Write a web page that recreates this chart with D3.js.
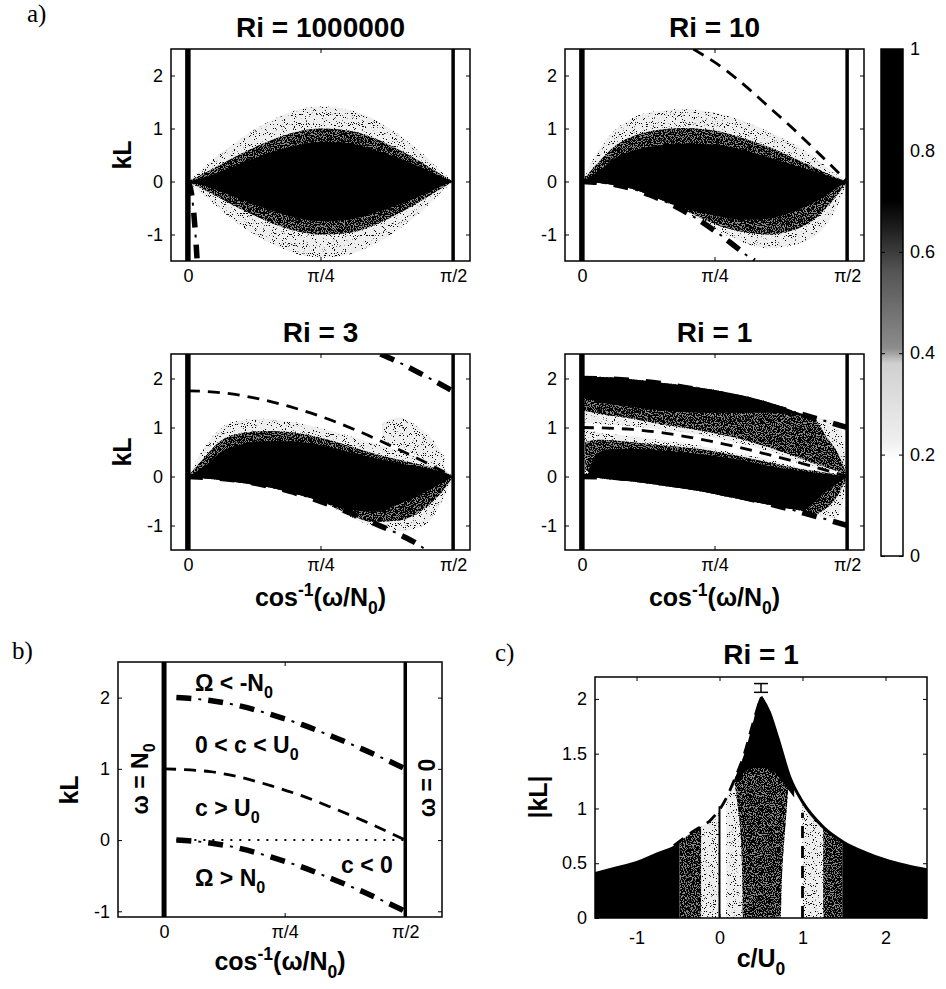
<!DOCTYPE html>
<meta charset="utf-8">
<style>
body { margin: 0; background: #fff; }
svg { font-family: "Liberation Sans", Arial, sans-serif; }
.tick text { font-size: 18px; fill: #000; }
.tick line { stroke: #000; }
.domain { display: none; }
.title { font-size: 28px; font-weight: bold; text-anchor: middle; }
.lab { font-size: 25px; font-weight: bold; text-anchor: middle; }
.note { font-size: 23px; font-weight: bold; }
.letter { font-family: "Liberation Serif", serif; font-size: 25px; }
.frame { fill: none; stroke: #000; stroke-width: 1.5; }
</style>
<svg width="946" height="989"></svg>
<script src="https://d3js.org/d3.v7.min.js"></script>
<script>
// ---- ticks ----
var thetaTicks = [0, Math.PI / 4, Math.PI / 2];
var thetaLabels = ["0", "π/4", "π/2"];
var kLTicks = [-1, 0, 1, 2];
var cTicks = [-1, 0, 1, 2];
var absKLTicks = [0, 0.5, 1, 1.5, 2];
var cbTicks = [0, 0.2, 0.4, 0.6, 0.8, 1];

// colour bar, value -> grey
var cbStops = [0, 0.19, 0.23, 0.38, 0.41, 0.56, 0.64, 0.7, 1];
var cbGreys = ["#fff", "#fff", "#eee", "#d0d0d0", "#8c8c8c", "#555", "#222", "#000", "#000"];

// value of each contour band
var LIGHT = 0.3, MID = 0.55, DARK = 0.9;

// ---- a) growth maps, rows are [theta, kL low, kL high] ----
var ri6Light = [[0,0,0],[0.1,-0.28,0.28],[0.2,-0.55,0.55],[0.3,-0.8,0.78],[0.45,-1.1,1.08],[0.6,-1.32,1.3],[0.785,-1.44,1.42],[0.95,-1.38,1.36],[1.1,-1.2,1.18],[1.25,-0.9,0.88],[1.4,-0.52,0.5],[1.5,-0.2,0.2],[1.5708,0,0]];
var ri6Mid   = [[0,0,0],[0.1,-0.16,0.16],[0.2,-0.33,0.33],[0.3,-0.5,0.5],[0.45,-0.72,0.72],[0.6,-0.9,0.9],[0.785,-1.0,1.0],[0.95,-0.97,0.96],[1.1,-0.83,0.82],[1.25,-0.6,0.6],[1.4,-0.33,0.33],[1.5,-0.13,0.13],[1.5708,0,0]];
var ri6Dark  = [[0,0,0],[0.1,-0.08,0.08],[0.2,-0.2,0.2],[0.3,-0.32,0.32],[0.45,-0.5,0.5],[0.6,-0.65,0.65],[0.785,-0.75,0.75],[0.95,-0.72,0.72],[1.1,-0.6,0.6],[1.25,-0.44,0.44],[1.4,-0.24,0.24],[1.5,-0.09,0.09],[1.5708,0,0]];

var ri10Light = [[0,0,0],[0.1,-0.03,0.6],[0.2,-0.07,0.98],[0.3,-0.14,1.2],[0.45,-0.32,1.33],[0.6,-0.55,1.37],[0.785,-0.9,1.3],[0.95,-1.14,1.15],[1.1,-1.26,0.95],[1.25,-1.2,0.72],[1.4,-0.98,0.4],[1.5,-0.55,0.15],[1.5708,0,0]];
var ri10Mid   = [[0,0,0],[0.1,-0.03,0.37],[0.2,-0.07,0.68],[0.3,-0.14,0.85],[0.45,-0.32,0.97],[0.6,-0.53,1.01],[0.785,-0.8,0.96],[0.95,-0.95,0.82],[1.1,-1.0,0.66],[1.25,-0.92,0.45],[1.4,-0.65,0.23],[1.5,-0.3,0.08],[1.5708,0,0]];
var ri10Dark  = [[0,0,0],[0.1,-0.03,0.2],[0.2,-0.07,0.45],[0.3,-0.14,0.58],[0.45,-0.32,0.68],[0.6,-0.5,0.71],[0.785,-0.64,0.7],[0.95,-0.72,0.6],[1.1,-0.7,0.46],[1.25,-0.57,0.31],[1.4,-0.35,0.17],[1.5,-0.14,0.06],[1.5708,0,0]];

var ri3Light = [[0,0,0],[0.1,-0.04,0.6],[0.2,-0.07,1.0],[0.3,-0.12,1.14],[0.45,-0.2,1.18],[0.6,-0.32,1.13],[0.785,-0.5,0.99],[0.95,-0.8,0.83],[1.1,-1.02,0.68],[1.25,-1.12,0.52],[1.4,-1.0,0.35],[1.5,-0.55,0.2],[1.5708,0,0]];
var ri3Blob  = [[1.15,0.75,1.1],[1.25,0.6,1.2],[1.35,0.44,1.05],[1.45,0.27,0.75],[1.52,0.14,0.4]];
var ri3Mid   = [[0,0,0],[0.1,-0.04,0.4],[0.2,-0.07,0.74],[0.3,-0.12,0.87],[0.45,-0.2,0.93],[0.6,-0.32,0.91],[0.785,-0.5,0.79],[0.95,-0.76,0.63],[1.1,-0.93,0.47],[1.25,-0.9,0.34],[1.4,-0.66,0.22],[1.5,-0.33,0.13],[1.5708,0,0]];
var ri3Dark  = [[0,0,0],[0.1,-0.04,0.21],[0.2,-0.07,0.51],[0.3,-0.12,0.64],[0.45,-0.2,0.72],[0.6,-0.32,0.72],[0.785,-0.5,0.64],[0.95,-0.68,0.5],[1.1,-0.72,0.38],[1.25,-0.56,0.27],[1.4,-0.33,0.18],[1.5,-0.14,0.1],[1.5708,0,0]];

var ri1TopLight = [[0,1.1,1.97],[0.1,1.07,2.04],[0.3,1.03,1.99],[0.5,0.94,1.91],[0.7,0.85,1.82],[0.9,0.7,1.7],[1.1,0.52,1.53],[1.3,0.25,1.29],[1.37,0.18,1.22],[1.45,0.12,1.17],[1.52,0.07,1.12],[1.5708,0,0]];
var ri1TopMid   = [[0,1.35,1.96],[0.1,1.28,2.03],[0.3,1.18,1.98],[0.5,1.05,1.9],[0.7,0.94,1.81],[0.9,0.8,1.69],[1.1,0.6,1.52],[1.3,0.36,1.28],[1.37,0.27,1.21],[1.45,0.18,0.8],[1.52,0.1,0.45],[1.5708,0,0]];
var ri1TopDark  = [[0,1.62,1.96],[0.1,1.52,2.03],[0.3,1.42,1.98],[0.5,1.34,1.9],[0.7,1.3,1.81],[0.9,1.3,1.69],[1.1,1.3,1.52],[1.3,1.24,1.28],[1.36,1.22,1.22]];
var ri1LowLight = [[0,0,0.97],[0.1,-0.03,0.9],[0.3,-0.1,0.82],[0.5,-0.2,0.73],[0.7,-0.3,0.63],[0.9,-0.44,0.49],[1.1,-0.57,0.35],[1.3,-0.72,0.18],[1.4,-0.8,0.12],[1.5,-0.85,0.06],[1.54,-0.6,0.03],[1.5708,0,0]];
var ri1LowMid   = [[0.02,0.15,0.7],[0.1,-0.03,0.75],[0.3,-0.1,0.7],[0.5,-0.2,0.63],[0.7,-0.3,0.56],[0.9,-0.44,0.44],[1.1,-0.57,0.29],[1.3,-0.7,0.15],[1.38,-0.76,0.11],[1.45,-0.64,0.07],[1.52,-0.36,0.03],[1.5708,0,0]];
var ri1LowDark  = [[0.04,0,0.12],[0.08,-0.02,0.42],[0.15,-0.05,0.55],[0.3,-0.1,0.56],[0.5,-0.2,0.52],[0.7,-0.3,0.46],[0.9,-0.44,0.36],[1.1,-0.57,0.22],[1.3,-0.68,0.11],[1.45,-0.3,0.05],[1.5708,0,0]];

// ---- a) critical-level curves, points are [theta, kL] ----
var ri6DashDotLow = [[0,0],[0.02,-0.2],[0.035,-0.6],[0.045,-1.0],[0.054,-1.45]];
var ri10Dashed    = [[0.66,2.5],[0.84,2.13],[0.98,1.77],[1.11,1.4],[1.25,1.0],[1.37,0.63],[1.49,0.26],[1.5708,0]];
var ri10DashDotLow = [[0,0],[0.2,-0.06],[0.4,-0.25],[0.6,-0.55],[0.8,-0.96],[0.95,-1.33],[1.02,-1.5]];
var ri3Dashed     = [[0,1.75],[0.2,1.71],[0.4,1.6],[0.6,1.43],[0.8,1.21],[1.0,0.94],[1.2,0.63],[1.4,0.3],[1.5708,0]];
var ri3DashDotUp  = [[1.14,2.5],[1.25,2.33],[1.35,2.15],[1.45,1.97],[1.5708,1.74]];
var ri3DashDotLow = [[0,0],[0.3,-0.08],[0.6,-0.3],[0.9,-0.66],[1.1,-0.95],[1.25,-1.18],[1.37,-1.4],[1.41,-1.5]];
var ri1DashDotUp  = [[0,2.0],[0.3,1.96],[0.5,1.88],[0.7,1.76],[0.9,1.62],[1.1,1.45],[1.3,1.27],[1.5708,1.0]];
var ri1Dashed     = [[0,1.0],[0.3,0.96],[0.5,0.88],[0.7,0.76],[0.9,0.62],[1.1,0.45],[1.3,0.27],[1.5708,0]];
var ri1DashDotLow = [[0,0],[0.3,-0.04],[0.5,-0.12],[0.7,-0.24],[0.9,-0.38],[1.1,-0.55],[1.3,-0.73],[1.5708,-1.0]];

// ---- b) regime sketch ----
var bDashDotUp  = [[0.08,2.0],[0.3,1.96],[0.5,1.88],[0.7,1.76],[0.9,1.62],[1.1,1.45],[1.3,1.27],[1.5708,1.0]];
var bDashed     = [[0,1.0],[0.3,0.96],[0.5,0.88],[0.7,0.76],[0.9,0.62],[1.1,0.45],[1.3,0.27],[1.5708,0]];
var bDotted     = [[0.08,0],[1.5708,0]];
var bDashDotLow = [[0.08,0],[0.3,-0.04],[0.5,-0.12],[0.7,-0.24],[0.9,-0.38],[1.1,-0.55],[1.3,-0.73],[1.5708,-1.0]];

// ---- c) |kL| against c/U0 for Ri = 1 ----
var cEnvLeft  = [[-1.5,0.42],[-1.25,0.47],[-1.0,0.52],[-0.75,0.6],[-0.55,0.66]];
var cEnvDash  = [[-0.55,0.66],[-0.3,0.8],[-0.1,0.9],[0.05,1.05],[0.2,1.3],[0.3,1.5],[0.4,1.77],[0.5,2.02]];
var cEnvRight = [[0.5,2.02],[0.6,1.88],[0.7,1.65],[0.85,1.28],[1.0,1.06],[1.25,0.83],[1.5,0.69],[1.75,0.6],[2.0,0.53],[2.25,0.48],[2.5,0.44]];
var cBands    = [[-1.5,-0.48,DARK],[-0.48,-0.22,MID],[-0.22,0,LIGHT],[0.08,0.3,LIGHT],[1.0,1.25,LIGHT],[1.25,1.48,MID],[1.48,2.5,DARK]];
var cCentre   = [[0,0.28,0.74],[0.5,0.27,0.76],[0.9,0.24,0.8],[1.2,0.19,0.83],[1.5,0.15,0.86]]; // [kL, c left, c right]
var cCap      = [[0.1,1.3],[0.2,1.25],[0.3,1.33],[0.4,1.37],[0.5,1.37],[0.6,1.36],[0.7,1.3],[0.8,1.2],[0.9,1.1]];
var cZeroLine = [[0,0],[0,1.02]];
var cOneLine  = [[1,0],[1,0.96]];
var cErrBar   = [0.5, 2.06, 2.14];

// -------------------------------------------------------------
var svg = d3.select("svg");
var W = +svg.attr("width"), H = +svg.attr("height");
var clipCount = 0;
var defs = svg.append("defs");

// printed half-tone: black specks over a grey base
function stipple(id, cut) {
  var f = defs.append("filter").attr("id", id).attr("filterUnits", "userSpaceOnUse")
    .attr("x", 0).attr("y", 0).attr("width", W).attr("height", H)
    .attr("color-interpolation-filters", "sRGB");
  f.append("feTurbulence").attr("type", "fractalNoise").attr("baseFrequency", 0.9)
    .attr("numOctaves", 1).attr("seed", 7).attr("result", "n");
  f.append("feColorMatrix").attr("in", "n").attr("type", "matrix")
    .attr("values", "0 0 0 0 0  0 0 0 0 0  0 0 0 0 0  -25 0 0 0 " + (25 * cut))
    .attr("result", "m");
  f.append("feComposite").attr("in", "m").attr("in2", "SourceAlpha").attr("operator", "in");
}
stipple("stipLight", 0.37);
stipple("stipMid", 0.56);

// make(parent) appends one copy of the shape
function paint(parent, make, v) {
  if (v >= 0.7) { make(parent).attr("fill", "#000"); return; }
  make(parent).attr("fill", v === LIGHT ? "#eeeeee" : "#8a8a8a");
  make(parent).attr("fill", "#000").attr("filter", v === LIGHT ? "url(#stipLight)" : "url(#stipMid)");
}

function makeAxes(box, xDom, yDom) {
  var x = d3.scaleLinear().domain(xDom).range([box[0], box[1]]);
  var y = d3.scaleLinear().domain(yDom).range([box[3], box[2]]);
  var id = "clip" + (clipCount++);
  defs.append("clipPath").attr("id", id).append("rect")
    .attr("x", box[0]).attr("y", box[2])
    .attr("width", box[1] - box[0]).attr("height", box[3] - box[2]);
  var g = svg.append("g");
  var plot = g.append("g").attr("clip-path", "url(#" + id + ")");
  return {x: x, y: y, g: g, plot: plot, box: box};
}

function frame(ax, xt, xl, yt, yl, xpad) {
  var b = ax.box;
  ax.g.append("g").attr("transform", "translate(0," + b[3] + ")")
    .call(d3.axisBottom(ax.x).tickValues(xt).tickFormat(function(d, i) { return xl[i]; })
      .tickSizeInner(-4).tickSizeOuter(0).tickPadding(xpad));
  ax.g.append("g").attr("transform", "translate(0," + b[2] + ")")
    .call(d3.axisTop(ax.x).tickValues(xt).tickFormat("").tickSizeInner(-4).tickSizeOuter(0));
  ax.g.append("g").attr("transform", "translate(" + b[0] + ",0)")
    .call(d3.axisLeft(ax.y).tickValues(yt).tickFormat(function(d, i) { return yl[i]; })
      .tickSizeInner(-4).tickSizeOuter(0).tickPadding(8));
  ax.g.append("g").attr("transform", "translate(" + b[1] + ",0)")
    .call(d3.axisRight(ax.y).tickValues(yt).tickFormat("").tickSizeInner(-4).tickSizeOuter(0));
  ax.g.append("rect").attr("class", "frame")
    .attr("x", b[0]).attr("y", b[2]).attr("width", b[1] - b[0]).attr("height", b[3] - b[2]);
}

function band(ax, rows, v) {
  var area = d3.area().curve(d3.curveMonotoneX)
    .x(function(d) { return ax.x(d[0]); })
    .y0(function(d) { return ax.y(d[1]); })
    .y1(function(d) { return ax.y(d[2]); });
  var dstr = area(rows);
  paint(ax.plot, function(p) { return p.append("path").attr("d", dstr); }, v);
}

function curve(ax, pts, type, smooth) {
  var line = d3.line().curve(smooth === false ? d3.curveLinear : d3.curveMonotoneX)
    .x(function(d) { return ax.x(d[0]); })
    .y(function(d) { return ax.y(d[1]); });
  var p = line(pts);
  function seg(w, dash) {
    ax.plot.append("path").attr("d", p).attr("fill", "none").attr("stroke", "#000")
      .attr("stroke-width", w).attr("stroke-dasharray", dash);
  }
  if (type === "dash") seg(2.8, "12,8");
  else if (type === "dot") seg(2, "2,7");
  else if (type === "solid") seg(2, null);
  else { seg(5.5, "15,17"); seg(2, "0,22,3,7"); }
}

function vline(ax, v, w) {
  var d = ax.y.domain();
  ax.plot.append("line").attr("x1", ax.x(v)).attr("x2", ax.x(v))
    .attr("y1", ax.y(d[0])).attr("y2", ax.y(d[1]))
    .attr("stroke", "#000").attr("stroke-width", w);
}

// text with sub / superscripts: parts = [[text, "sub"|"sup"|undefined], ...]
function rich(g, x, y, parts, cls, size, transform) {
  var t = g.append("text").attr("class", cls);
  if (transform) t.attr("transform", transform); else t.attr("x", x).attr("y", y);
  var shift = 0;
  parts.forEach(function(p) {
    var s = t.append("tspan").text(p[0]);
    var target = p[1] === "sub" ? size * 0.3 : p[1] === "sup" ? -size * 0.4 : 0;
    s.attr("dy", target - shift);
    shift = target;
    if (p[1]) s.style("font-size", (size * 0.7) + "px");
  });
  return t;
}

var xLabelParts = [["cos"], ["-1", "sup"], ["(ω/N"], ["0", "sub"], [")"]];
var kLLabels = kLTicks.map(String);

function panelA(box, title, bands, lines, xlab, ylab) {
  var ax = makeAxes(box, [-0.1, Math.PI / 2 + 0.1], [-1.5, 2.5]);
  bands.forEach(function(b) { band(ax, b[0], b[1]); });
  lines.forEach(function(l) { curve(ax, l[0], l[1]); });
  vline(ax, 0, 5.5);
  vline(ax, Math.PI / 2, 3.5);
  frame(ax, thetaTicks, thetaLabels, kLTicks, kLLabels, 8);
  var cx = (box[0] + box[1]) / 2;
  svg.append("text").attr("class", "title").attr("x", cx).attr("y", box[2] - 12).text(title);
  if (xlab) rich(svg, cx, box[3] + 56, xLabelParts, "lab", 25);
  if (ylab) svg.append("text").attr("class", "lab")
    .attr("transform", "translate(" + (box[0] - 40) + "," + ((box[2] + box[3]) / 2) + ") rotate(-90)").text("kL");
}

panelA([171, 470, 49, 261], "Ri = 1000000",
  [[ri6Light, LIGHT], [ri6Mid, MID], [ri6Dark, DARK]],
  [[ri6DashDotLow, "dashdot"]], false, true);
panelA([565, 864, 49, 261], "Ri = 10",
  [[ri10Light, LIGHT], [ri10Mid, MID], [ri10Dark, DARK]],
  [[ri10Dashed, "dash"], [ri10DashDotLow, "dashdot"]], false, false);
panelA([171, 470, 354, 550], "Ri = 3",
  [[ri3Light, LIGHT], [ri3Blob, LIGHT], [ri3Mid, MID], [ri3Dark, DARK]],
  [[ri3Dashed, "dash"], [ri3DashDotUp, "dashdot"], [ri3DashDotLow, "dashdot"]], true, true);
panelA([565, 864, 354, 550], "Ri = 1",
  [[ri1TopLight, LIGHT], [ri1LowLight, LIGHT], [ri1TopMid, MID], [ri1LowMid, MID], [ri1TopDark, DARK], [ri1LowDark, DARK]],
  [[ri1DashDotUp, "dashdot"], [ri1Dashed, "dash"], [ri1DashDotLow, "dashdot"]], true, false);

// ---- colour bar ----
var cb = [881, 903, 49, 556];
var cbY = d3.scaleLinear().domain([0, 1]).range([cb[3], cb[2]]);
var grad = defs.append("linearGradient").attr("id", "cbgrad")
  .attr("x1", 0).attr("y1", 1).attr("x2", 0).attr("y2", 0);
grad.selectAll("stop").data(cbStops).enter().append("stop")
  .attr("offset", function(d) { return d; })
  .attr("stop-color", function(d, i) { return cbGreys[i]; });
svg.append("rect").attr("x", cb[0]).attr("y", cb[2]).attr("width", cb[1] - cb[0]).attr("height", cb[3] - cb[2])
  .attr("fill", "url(#cbgrad)");
svg.append("g").attr("transform", "translate(" + cb[1] + ",0)")
  .call(d3.axisRight(cbY).tickValues(cbTicks).tickFormat(d3.format("~g")).tickSizeInner(-4).tickSizeOuter(0).tickPadding(7));
svg.append("g").attr("transform", "translate(" + cb[0] + ",0)")
  .call(d3.axisLeft(cbY).tickValues(cbTicks).tickFormat("").tickSizeInner(-4).tickSizeOuter(0));
svg.append("rect").attr("class", "frame").attr("x", cb[0]).attr("y", cb[2])
  .attr("width", cb[1] - cb[0]).attr("height", cb[3] - cb[2]);

// ---- b) ----
(function() {
  var box = [118, 442, 662, 917];
  var ax = makeAxes(box, [-0.3, 1.81], [-1.08, 2.5]);
  curve(ax, bDashDotUp, "dashdot");
  curve(ax, bDashed, "dash");
  curve(ax, bDotted, "dot", false);
  curve(ax, bDashDotLow, "dashdot");
  vline(ax, 0, 5);
  vline(ax, Math.PI / 2, 3.5);
  frame(ax, thetaTicks, thetaLabels, kLTicks, kLLabels, 8);
  rich(svg, 0, 0, xLabelParts, "lab", 25, "translate(280,970)");
  svg.append("text").attr("class", "lab").attr("transform", "translate(78,790) rotate(-90)").text("kL");
  rich(svg, 195, 691, [["Ω < -N"], ["0", "sub"]], "note", 23);
  rich(svg, 195, 753, [["0 < c < U"], ["0", "sub"]], "note", 23);
  rich(svg, 195, 816, [["c > U"], ["0", "sub"]], "note", 23);
  rich(svg, 195, 886, [["Ω > N"], ["0", "sub"]], "note", 23);
  svg.append("text").attr("class", "note").attr("x", 341).attr("y", 873).text("c < 0");
  rich(svg, 0, 0, [["ω = N"], ["0", "sub"]], "note", 23, "translate(148,779) rotate(-90)").attr("text-anchor", "middle");
  svg.append("text").attr("class", "note").attr("text-anchor", "middle")
    .attr("transform", "translate(435,788) rotate(-90)").text("ω = 0");
})();

// ---- c) ----
(function() {
  var box = [595, 927, 677, 918];
  var ax = makeAxes(box, [-1.5, 2.5], [0, 2.2]);
  var env = cEnvLeft.concat(cEnvDash.slice(1), cEnvRight.slice(1));
  var envArea = d3.area().curve(d3.curveMonotoneX)
    .x(function(d) { return ax.x(d[0]); }).y0(ax.y(0)).y1(function(d) { return ax.y(d[1]); });
  defs.append("clipPath").attr("id", "envclip").append("path").datum(env).attr("d", envArea);
  var inner = ax.plot.append("g").attr("clip-path", "url(#envclip)");
  cBands.forEach(function(d) {
    paint(inner, function(p) {
      return p.append("rect").attr("x", ax.x(d[0])).attr("width", ax.x(d[1]) - ax.x(d[0]))
        .attr("y", ax.y(2.2)).attr("height", ax.y(0) - ax.y(2.2));
    }, d[2]);
  });
  var centre = d3.area().curve(d3.curveMonotoneY)
    .y(function(d) { return ax.y(d[0]); })
    .x0(function(d) { return ax.x(d[1]); })
    .x1(function(d) { return ax.x(d[2]); })(cCentre);
  paint(inner, function(p) { return p.append("path").attr("d", centre); }, MID);
  var cap = d3.area().curve(d3.curveMonotoneX)
    .x(function(d) { return ax.x(d[0]); })
    .y0(function(d) { return ax.y(d[1]); })
    .y1(ax.y(2.2))(cCap);
  paint(inner, function(p) { return p.append("path").attr("d", cap); }, DARK);
  curve(ax, cZeroLine, "solid", false);
  curve(ax, cOneLine, "dash", false);
  curve(ax, cEnvDash, "dash");
  ax.plot.append("path").datum(cEnvRight)
    .attr("d", d3.line().curve(d3.curveMonotoneX)
      .x(function(d) { return ax.x(d[0]); }).y(function(d) { return ax.y(d[1]); }))
    .attr("fill", "none").attr("stroke", "#000").attr("stroke-width", 3);
  var eb = ax.plot.append("g").attr("stroke", "#000").attr("stroke-width", 1.5);
  eb.append("line").attr("x1", ax.x(cErrBar[0])).attr("x2", ax.x(cErrBar[0]))
    .attr("y1", ax.y(cErrBar[1])).attr("y2", ax.y(cErrBar[2]));
  [cErrBar[1], cErrBar[2]].forEach(function(v) {
    eb.append("line").attr("x1", ax.x(cErrBar[0]) - 7).attr("x2", ax.x(cErrBar[0]) + 7)
      .attr("y1", ax.y(v)).attr("y2", ax.y(v));
  });
  frame(ax, cTicks, cTicks.map(String), absKLTicks, absKLTicks.map(String), 13);
  svg.append("text").attr("class", "title").attr("x", 761).attr("y", 664).text("Ri = 1");
  rich(svg, 0, 0, [["c/U"], ["0", "sub"]], "lab", 25, "translate(761,967)");
  svg.append("text").attr("class", "lab").attr("transform", "translate(547,797) rotate(-90)").text("|kL|");
})();

// panel letters
svg.append("text").attr("class", "letter").attr("x", 27).attr("y", 22).text("a)");
svg.append("text").attr("class", "letter").attr("x", 12).attr("y", 659).text("b)");
svg.append("text").attr("class", "letter").attr("x", 495).attr("y", 661).text("c)");
</script>
